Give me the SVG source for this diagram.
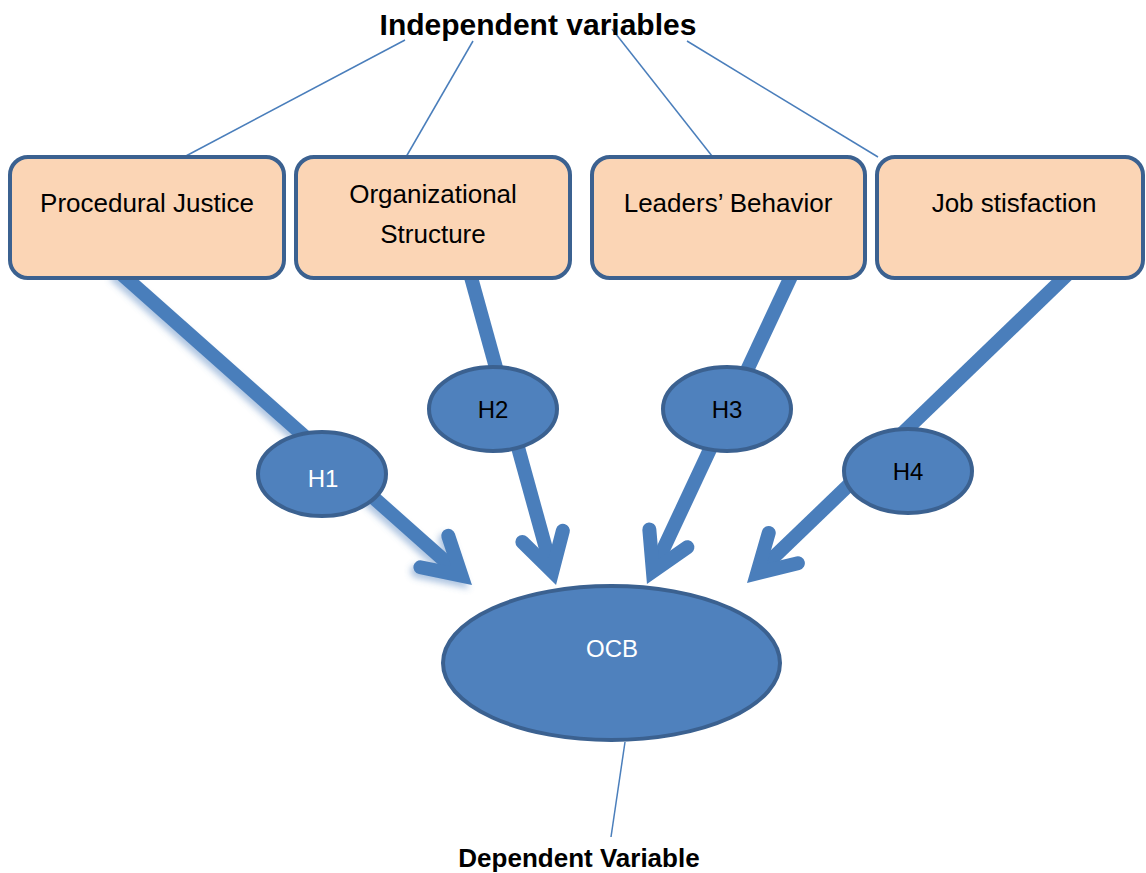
<svg xmlns="http://www.w3.org/2000/svg" width="1146" height="873" viewBox="0 0 1146 873">
  <defs>
    <style>
      .box { fill: #fbd5b5; stroke: #3b6190; stroke-width: 4; }
      .hyp { fill: #4f81bd; stroke: #3b6190; stroke-width: 4; }
      .lbl { font-family: "Liberation Sans", Arial, sans-serif; font-size: 26px; fill: #000; text-anchor: middle; }
      .hl { font-family: "Liberation Sans", Arial, sans-serif; font-size: 24px; text-anchor: middle; }
      .title { font-family: "Liberation Sans", Arial, sans-serif; font-weight: bold; fill: #000; text-anchor: middle; }
      .thin { stroke: #4a7ebb; stroke-width: 1.5; fill: none; }
      .shaft { stroke: #4a7ebb; stroke-width: 14; fill: none; marker-end: url(#chev); }
    </style>
    <marker id="chev" markerUnits="userSpaceOnUse" orient="auto" refX="0" refY="0" markerWidth="10" markerHeight="10" overflow="visible">
      <polyline points="-36.4,-21 0,0 -36.4,21" fill="none" stroke="#4a7ebb" stroke-width="14" stroke-linecap="round" stroke-linejoin="miter" stroke-miterlimit="6"/>
    </marker>
    <filter id="soft" x="-20%" y="-20%" width="140%" height="140%">
      <feDropShadow dx="-3" dy="4" stdDeviation="3" flood-color="#4f81bd" flood-opacity="0.45"/>
    </filter>
  </defs>

  <!-- connectors -->
  <g id="connectors">
    <!-- thin leader lines to the titles -->
    <line class="thin" x1="405" y1="40" x2="184" y2="157"/>
    <line class="thin" x1="473" y1="41" x2="406" y2="157"/>
    <line class="thin" x1="612" y1="29" x2="712" y2="156"/>
    <line class="thin" x1="687" y1="41" x2="878" y2="157"/>
    <line class="thin" x1="625" y1="742" x2="611" y2="837"/>
    <!-- hypothesis arrows into OCB -->
    <g filter="url(#soft)">
      <line class="shaft" x1="117" y1="270" x2="461.5" y2="575.7"/>
    </g>
    <line class="shaft" x1="469" y1="270" x2="552.3" y2="571.5"/>
    <line class="shaft" x1="794" y1="270" x2="652.9" y2="571.3"/>
    <line class="shaft" x1="1072" y1="270" x2="757.1" y2="573.3"/>
  </g>

  <text class="title" x="538" y="35" font-size="30">Independent variables</text>
  <text class="title" x="579" y="867" font-size="26">Dependent Variable</text>

  <g id="procedural-justice">
    <rect class="box" x="10" y="157" width="274" height="121" rx="18"/>
    <text class="lbl" x="147" y="212">Procedural Justice</text>
  </g>
  <g id="organizational-structure">
    <rect class="box" x="296" y="157" width="274" height="121" rx="18"/>
    <text class="lbl" x="433" y="203">Organizational</text>
    <text class="lbl" x="433" y="243">Structure</text>
  </g>
  <g id="leaders-behavior">
    <rect class="box" x="592" y="157" width="273" height="121" rx="18"/>
    <text class="lbl" x="728" y="212">Leaders’ Behavior</text>
  </g>
  <g id="job-satisfaction">
    <rect class="box" x="877" y="157" width="266" height="121" rx="18"/>
    <text class="lbl" x="1014" y="212">Job stisfaction</text>
  </g>

  <g id="h1">
    <ellipse class="hyp" cx="322" cy="474" rx="64" ry="42"/>
    <text class="hl" x="323" y="487" fill="#fff">H1</text>
  </g>
  <g id="h2">
    <ellipse class="hyp" cx="493" cy="409" rx="64" ry="42"/>
    <text class="hl" x="493" y="418" fill="#000">H2</text>
  </g>
  <g id="h3">
    <ellipse class="hyp" cx="727" cy="409" rx="64" ry="42"/>
    <text class="hl" x="727" y="418" fill="#000">H3</text>
  </g>
  <g id="h4">
    <ellipse class="hyp" cx="908" cy="471" rx="64" ry="42"/>
    <text class="hl" x="908" y="480" fill="#000">H4</text>
  </g>

  <g id="ocb">
    <ellipse class="hyp" cx="611.5" cy="663" rx="168.5" ry="77"/>
    <text class="hl" x="612" y="657" fill="#fff">OCB</text>
  </g>
</svg>
